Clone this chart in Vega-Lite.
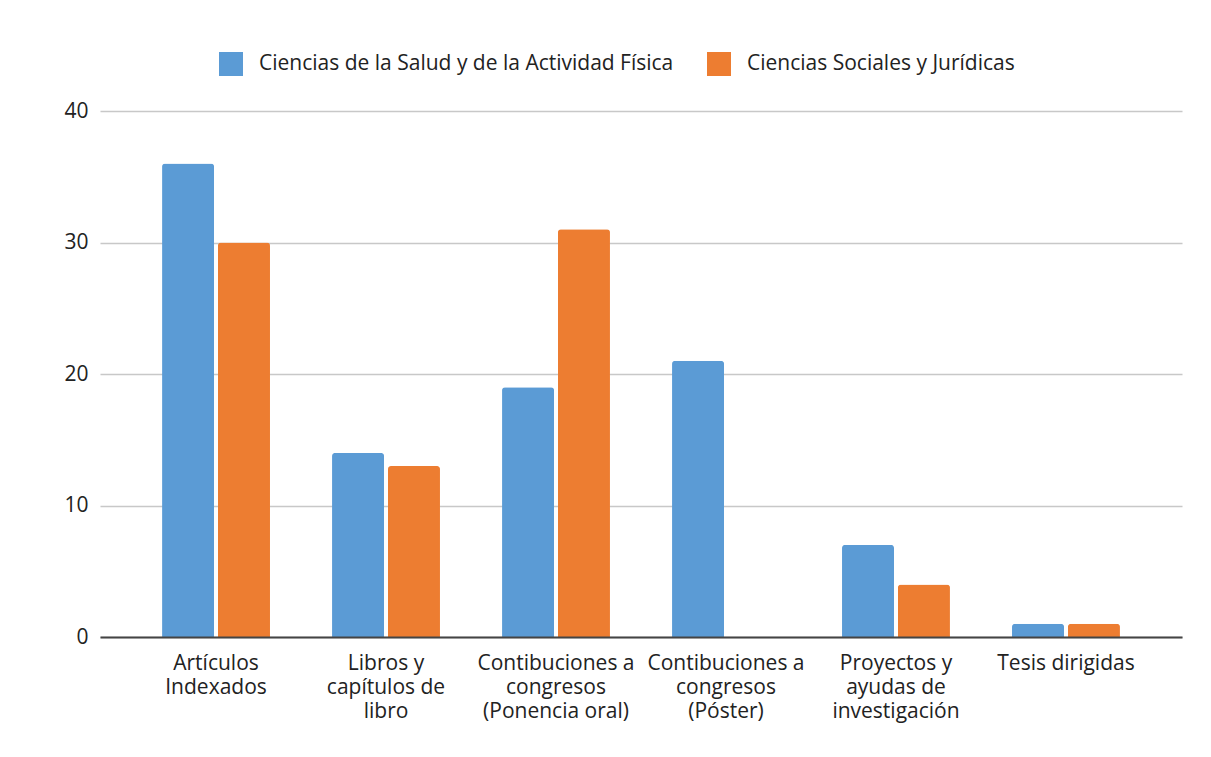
{
  "$schema": "https://vega.github.io/schema/vega-lite/v6.json",
  "width": 1082,
  "height": 526,
  "autosize": {"type": "none"},
  "padding": {"left": 100, "top": 111, "right": 29, "bottom": 120},
  "background": "white",
  "config": {
    "view": {"stroke": null},
    "font": "Open Sans",
    "axis": {"labelFont": "Open Sans", "labelColor": "#222222", "labelFontSize": 21},
    "legend": {"labelFont": "Open Sans", "labelFontSize": 21, "labelColor": "#222222"}
  },
  "data": {
    "values": [
      {"categoria": "Artículos|Indexados", "area": "Ciencias de la Salud y de la Actividad Física", "valor": 36},
      {"categoria": "Artículos|Indexados", "area": "Ciencias Sociales y Jurídicas", "valor": 30},
      {"categoria": "Libros y|capítulos de|libro", "area": "Ciencias de la Salud y de la Actividad Física", "valor": 14},
      {"categoria": "Libros y|capítulos de|libro", "area": "Ciencias Sociales y Jurídicas", "valor": 13},
      {"categoria": "Contibuciones a|congresos|(Ponencia oral)", "area": "Ciencias de la Salud y de la Actividad Física", "valor": 19},
      {"categoria": "Contibuciones a|congresos|(Ponencia oral)", "area": "Ciencias Sociales y Jurídicas", "valor": 31},
      {"categoria": "Contibuciones a|congresos|(Póster)", "area": "Ciencias de la Salud y de la Actividad Física", "valor": 21},
      {"categoria": "Contibuciones a|congresos|(Póster)", "area": "Ciencias Sociales y Jurídicas", "valor": 0},
      {"categoria": "Proyectos y|ayudas de|investigación", "area": "Ciencias de la Salud y de la Actividad Física", "valor": 7},
      {"categoria": "Proyectos y|ayudas de|investigación", "area": "Ciencias Sociales y Jurídicas", "valor": 4},
      {"categoria": "Tesis dirigidas", "area": "Ciencias de la Salud y de la Actividad Física", "valor": 1},
      {"categoria": "Tesis dirigidas", "area": "Ciencias Sociales y Jurídicas", "valor": 1}
    ]
  },
  "mark": {"type": "bar", "cornerRadiusTopLeft": 3, "cornerRadiusTopRight": 3},
  "encoding": {
    "x": {
      "field": "categoria",
      "type": "nominal",
      "sort": null,
      "scale": {"paddingInner": 0.365, "paddingOuter": 0.365},
      "axis": {
        "title": null,
        "labelAngle": 0,
        "labelExpr": "split(datum.label, '|')",
        "labelLineHeight": 24,
        "labelPadding": 15,
        "labelBaseline": "top",
        "labelLimit": 0,
        "ticks": false,
        "domainColor": "#444444",
        "domainWidth": 2,
        "zindex": 1
      }
    },
    "xOffset": {"field": "area", "type": "nominal", "sort": null, "scale": {"paddingInner": 0.07}},
    "y": {
      "field": "valor",
      "type": "quantitative",
      "scale": {"domain": [0, 40]},
      "axis": {
        "title": null,
        "values": [0, 10, 20, 30, 40],
        "domain": false,
        "ticks": false,
        "labelPadding": 12,
        "gridColor": "#c8c8c8",
        "gridWidth": 1.5
      }
    },
    "color": {
      "field": "area",
      "type": "nominal",
      "sort": null,
      "scale": {"range": ["#5B9BD5", "#ED7D31"]},
      "legend": {
        "title": null,
        "orient": "none",
        "legendX": 119,
        "legendY": -59,
        "direction": "horizontal",
        "symbolType": "square",
        "symbolSize": 576,
        "symbolStrokeWidth": 0,
        "symbolOpacity": 1,
        "labelOffset": 16,
        "labelLimit": 0,
        "columnPadding": 33
      }
    }
  }
}
